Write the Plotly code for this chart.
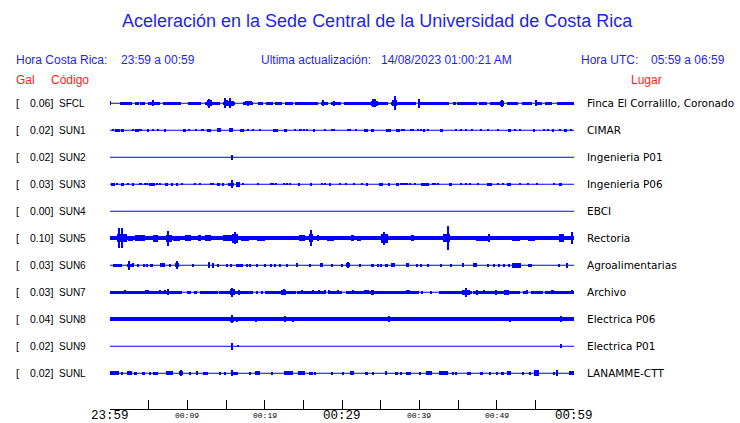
import plotly.graph_objects as go

# ---------------- data ----------------
codes = ["SFCL", "SUN1", "SUN2", "SUN3", "SUN4", "SUN5", "SUN6", "SUN7", "SUN8", "SUN9", "SUNL"]
gal = ["0.06", "0.02", "0.02", "0.03", "0.00", "0.10", "0.03", "0.03", "0.04", "0.02", "0.02"]
places = ["Finca El Corralillo, Coronado", "CIMAR", "Ingenieria P01", "Ingenieria P06", "EBCI",
          "Rectoria", "Agroalimentarias", "Archivo", "Electrica P06", "Electrica P01", "LANAMME-CTT"]

tick_minutes = list(range(0, 61, 5))
tick_labels = ["23:59", "", "00:09", "", "00:19", "", "00:29", "", "00:39", "", "00:49", "", "00:59"]
big_labels = {"23:59", "00:29", "00:59"}

# events per station: (start minute, end minute, half-amplitude)
ev_SFCL = [(0.0, 0.1, 2), (1.3, 2.8, 1.5), (3.2, 3.7, 1.5), (3.9, 4.5, 1.5), (4.9, 6.5, 1.5), (6.9, 9.2, 1.5),
           (10.1, 11.8, 1.5), (12.3, 14.2, 1.5), (14.6, 16.1, 1.5), (17.2, 18.5, 1.5), (19.1, 19.8, 1.5),
           (20.2, 21.1, 1.5), (21.3, 22.2, 1.5), (22.6, 23.7, 1.5), (23.9, 26.9, 1.5), (27.3, 28.2, 1.5),
           (28.6, 29.9, 1.5), (30.3, 35.9, 1.5), (36.3, 39.6, 1.5), (40.0, 43.9, 1.5), (44.3, 44.7, 1.5),
           (44.9, 47.5, 1.5), (47.7, 48.8, 1.5), (49.2, 51.0, 1.5), (51.4, 52.7, 1.5), (53.3, 54.6, 1.5),
           (55.1, 55.9, 1.5), (56.3, 57.2, 1.5), (57.8, 60.0, 1.5),
           (5.5, 5.7, 3), (12.6, 13.2, 3), (12.8, 12.95, 4.5), (14.85, 15.0, 5), (14.7, 15.2, 3),
           (15.5, 15.65, 5), (15.3, 16.0, 2.5), (17.8, 17.95, 2.5), (17.5, 18.3, 2), (27.5, 27.7, 3),
           (28.9, 29.1, 2.5), (33.7, 34.6, 2.5), (33.95, 34.1, 4), (34.25, 34.4, 4), (36.5, 37.1, 3),
           (36.75, 36.9, 7), (39.95, 40.1, 4.5), (50.4, 51.0, 2.5), (50.6, 50.75, 3.5), (55.0, 55.15, 3)]
ev_SUN1 = [(0.2, 0.5, 1), (0.7, 1.3, 1.5), (1.4, 1.8, 1.5), (2.9, 3.1, 1), (3.2, 3.7, 1.5), (3.8, 4.1, 1),
           (4.9, 5.05, 1.5), (5.5, 5.65, 1), (6.1, 6.25, 1), (7.1, 7.25, 1.5), (9.4, 9.8, 1.5), (10.1, 10.25, 1),
           (11.0, 11.15, 1), (11.8, 12.2, 1), (12.5, 13.1, 1.5), (13.9, 14.3, 2), (15.4, 15.9, 2),
           (16.8, 17.3, 1.5), (17.8, 17.95, 1), (18.4, 18.55, 1), (19.3, 19.45, 1), (21.1, 21.7, 1.5),
           (22.5, 22.9, 1.5), (23.8, 23.95, 1), (24.4, 24.8, 1), (25.0, 25.15, 1), (25.4, 25.55, 1),
           (26.2, 26.5, 1.5), (27.8, 27.95, 1), (28.6, 28.75, 1), (28.9, 29.05, 1), (30.7, 30.85, 1),
           (31.0, 31.15, 1), (31.7, 31.85, 1), (32.9, 33.4, 1.5), (33.8, 34.1, 1.5), (35.7, 36.3, 1.5),
           (37.0, 37.5, 1.5), (37.7, 37.85, 1), (37.9, 38.05, 1), (38.8, 38.95, 1), (39.1, 39.25, 1),
           (39.8, 39.95, 1), (40.1, 40.25, 1), (40.6, 40.75, 1.5), (41.0, 41.15, 1), (42.8, 43.0, 1.5),
           (44.7, 44.85, 1), (45.3, 45.45, 1), (46.0, 46.15, 1), (46.7, 46.85, 1), (47.9, 48.05, 1),
           (48.8, 48.95, 1), (50.1, 50.25, 1), (51.5, 51.8, 1.5), (52.3, 52.45, 1), (52.9, 53.05, 1),
           (54.8, 55.0, 1.5), (56.1, 56.25, 1), (56.6, 56.75, 1), (57.2, 57.4, 1.5), (58.1, 58.25, 1),
           (58.7, 59.1, 1.5), (59.6, 59.75, 1)]
ev_SUN2 = [(15.65, 15.8, 2.5)]
ev_SUN3 = [(0.1, 0.6, 1.5), (0.9, 1.05, 1), (1.4, 1.8, 1.5), (2.3, 2.45, 1), (2.8, 3.1, 1.5), (3.7, 4.2, 1),
           (4.4, 4.9, 1), (5.1, 5.8, 1.5), (6.0, 6.15, 1), (6.4, 6.55, 1), (7.1, 7.5, 1.5), (7.95, 8.1, 1.5),
           (8.6, 8.75, 1.5), (9.2, 9.35, 1), (10.9, 11.05, 1), (11.6, 11.75, 1), (13.0, 13.15, 1),
           (13.3, 13.45, 1), (13.9, 14.2, 1.5), (14.6, 14.8, 1.5), (15.3, 16.0, 1.5), (15.65, 15.8, 4),
           (16.3, 16.8, 2.5), (17.1, 17.25, 1), (19.1, 19.25, 1), (20.7, 20.85, 1), (21.0, 21.15, 1),
           (21.4, 21.55, 1), (22.4, 22.55, 1), (22.8, 22.95, 1), (23.2, 23.35, 1), (24.3, 24.6, 1.5),
           (25.8, 26.1, 1.5), (27.3, 27.45, 1), (27.7, 27.95, 1), (28.3, 28.6, 1.5), (29.7, 29.85, 1),
           (30.4, 30.7, 1), (31.5, 31.65, 1), (32.5, 32.65, 1), (33.2, 33.35, 1.5), (34.8, 35.3, 1.5),
           (36.0, 36.2, 1.5), (37.0, 37.4, 1.5), (37.6, 37.75, 1), (37.85, 38.0, 1), (38.05, 38.2, 1),
           (38.4, 38.55, 1), (38.7, 38.85, 1), (39.4, 39.6, 1), (40.2, 41.3, 1.5), (41.7, 41.85, 1),
           (42.0, 42.15, 1), (42.4, 42.55, 1), (43.9, 44.2, 1.5), (45.3, 45.45, 1), (46.0, 46.15, 1),
           (46.5, 46.65, 1), (47.5, 47.75, 1), (48.8, 49.4, 1.5), (50.1, 50.3, 1), (50.7, 50.9, 1),
           (51.4, 51.9, 1.5), (53.0, 53.15, 1), (54.0, 54.15, 1), (55.1, 55.25, 1), (57.4, 57.55, 1),
           (58.1, 58.5, 1.5)]
ev_SUN4 = []
ev_SUN5 = [(0.0, 60.0, 2), (0.9, 2.2, 4), (1.15, 1.3, 10), (1.45, 1.6, 10), (2.3, 3.0, 2.5), (3.2, 4.5, 3),
           (5.5, 6.2, 3.5), (7.2, 8.0, 3.5), (7.45, 7.6, 7.5), (8.2, 9.0, 2.5), (9.7, 10.5, 3), (11.4, 11.8, 3),
           (12.3, 13.1, 3), (14.6, 16.6, 3), (15.8, 16.5, 4.5), (16.15, 16.3, 6), (17.0, 18.0, 2.5),
           (19.0, 20.0, 2.5), (24.5, 25.2, 3), (25.7, 26.3, 4), (25.95, 26.1, 8), (26.8, 27.0, 3),
           (28.0, 29.0, 2.5), (31.2, 31.6, 3), (32.0, 32.5, 2.5), (35.0, 35.9, 4.5), (35.35, 35.5, 6.5),
           (38.9, 39.3, 3), (43.0, 44.0, 4), (43.65, 43.8, 12), (47.3, 49.2, 2.5), (48.9, 49.1, 4),
           (52.0, 53.0, 2.5), (54.0, 55.0, 2.5), (58.1, 58.7, 4), (59.7, 59.9, 6)]
ev_SUN6 = [(0.4, 1.5, 1.7), (2.2, 2.8, 1.5), (2.45, 2.6, 4.5), (2.95, 3.1, 2), (3.6, 3.75, 1.5),
           (4.3, 4.45, 1.5), (4.7, 4.85, 1.5), (5.2, 5.5, 1.5), (6.5, 7.1, 2), (7.7, 7.85, 1.5), (8.4, 8.9, 2),
           (8.65, 8.8, 4), (10.7, 10.85, 1.5), (12.8, 12.95, 3), (13.2, 13.35, 2.5), (13.9, 14.05, 1.5),
           (15.0, 15.15, 1.5), (15.6, 15.75, 1.5), (16.3, 17.2, 1.5), (17.6, 17.75, 1.5), (18.1, 18.25, 1.5),
           (18.9, 19.05, 1.5), (20.0, 20.2, 1.5), (20.7, 20.85, 1.5), (21.3, 21.45, 1.5), (21.9, 22.05, 1.5),
           (22.8, 23.0, 1.5), (24.1, 24.3, 2), (25.8, 25.95, 1.5), (27.1, 27.5, 2), (28.7, 28.85, 1.5),
           (29.9, 30.05, 1.5), (30.5, 31.0, 2), (30.7, 30.85, 3), (32.3, 32.45, 1.5), (33.8, 34.2, 1.5),
           (34.6, 34.75, 1.5), (34.95, 35.1, 1.5), (35.5, 35.9, 1.5), (36.4, 36.8, 2), (38.3, 38.7, 2),
           (39.6, 39.8, 1.5), (40.1, 40.3, 1.5), (41.0, 41.15, 1.5), (42.7, 42.85, 1.5), (44.0, 44.15, 1.5),
           (45.6, 45.8, 2), (46.9, 47.5, 2), (48.8, 48.95, 1.5), (49.6, 49.75, 1.5), (50.2, 50.35, 1.5),
           (50.9, 51.05, 1.5), (51.5, 51.65, 1.5), (52.0, 53.1, 2.5), (54.0, 54.6, 1.5), (58.0, 58.15, 1.5),
           (59.0, 59.15, 2.5)]
ev_SUN7 = [(0.0, 9.3, 1.3), (10.0, 10.5, 1.3), (10.8, 11.3, 1.3), (11.7, 14.0, 1.3), (14.1, 18.5, 1.3),
           (19.0, 19.2, 1.3), (19.6, 19.8, 1.3), (20.0, 24.0, 1.3), (24.2, 27.9, 1.3), (28.3, 30.0, 1.3),
           (30.5, 40.0, 1.3), (40.3, 40.5, 1.3), (41.4, 41.6, 1.3), (42.5, 46.8, 1.3), (47.0, 53.0, 1.3),
           (53.4, 53.9, 1.3), (54.4, 56.0, 1.3), (56.3, 60.0, 1.3),
           (1.9, 2.1, 2), (4.5, 5.0, 2), (6.4, 6.55, 2), (7.1, 7.25, 2), (7.4, 7.55, 3), (15.5, 16.1, 3),
           (15.65, 15.8, 4.5), (16.5, 16.8, 2.5), (22.1, 22.8, 2.5), (22.4, 22.55, 3), (24.7, 24.85, 2),
           (26.2, 26.35, 2), (26.9, 27.05, 2), (27.7, 27.85, 2), (28.2, 28.35, 2), (29.4, 29.55, 2),
           (31.3, 31.45, 2), (32.8, 33.5, 2), (33.7, 34.2, 2.5), (38.3, 38.8, 2), (45.5, 46.5, 2.5),
           (45.95, 46.1, 4.5), (47.4, 47.55, 2.5), (48.3, 48.45, 2), (49.8, 49.95, 2.5), (51.0, 51.6, 2.5),
           (53.9, 54.05, 2), (57.0, 57.4, 2), (59.7, 59.85, 2)]
ev_SUN8 = [(0.0, 60.0, 2), (15.65, 15.8, 4), (15.5, 16.0, 2.5), (16.3, 16.6, 2.5), (18.8, 18.95, 2.5),
           (22.55, 22.7, 3), (23.6, 23.75, 2.5), (36.0, 36.15, 3), (51.7, 51.85, 2.5), (58.2, 58.35, 3)]
ev_SUN9 = [(15.6, 15.9, 1.5), (15.65, 15.8, 3.3), (16.45, 16.6, 1), (58.25, 58.4, 2)]
ev_SUNL = [(0.0, 1.2, 2), (1.5, 1.65, 1.5), (2.2, 2.8, 2), (3.1, 3.5, 1.5), (4.2, 4.5, 1.5), (5.1, 5.25, 1.5),
           (5.6, 6.2, 1.5), (7.3, 8.2, 2), (8.9, 9.5, 2), (9.1, 9.25, 3), (10.3, 10.5, 1.5), (11.1, 11.4, 2),
           (12.0, 12.7, 1.5), (14.2, 14.35, 1.5), (14.7, 15.0, 1.5), (15.65, 15.8, 3), (15.9, 16.5, 1.5),
           (18.0, 18.15, 1.5), (18.7, 19.4, 2), (20.9, 21.1, 1.5), (22.5, 23.7, 2), (24.3, 25.2, 2),
           (25.7, 26.2, 1.5), (26.5, 26.7, 1.5), (28.7, 28.85, 1.5), (30.0, 30.15, 1.5), (31.0, 31.6, 2),
           (33.0, 33.3, 1.5), (34.0, 34.15, 1.5), (35.5, 35.8, 2), (36.8, 37.2, 1.5), (37.5, 37.65, 1.5),
           (38.3, 38.9, 1.5), (40.0, 40.15, 1.5), (40.9, 41.7, 2), (42.6, 43.7, 2), (44.3, 44.45, 1.5),
           (44.7, 44.85, 1.5), (46.2, 46.7, 1.5), (47.9, 48.2, 1.5), (49.0, 49.3, 1.5), (50.0, 50.2, 1.5),
           (50.5, 51.0, 1.5), (51.4, 51.9, 2), (53.4, 53.55, 1.5), (54.3, 54.45, 1.5), (54.8, 55.5, 3),
           (57.3, 57.45, 1.5), (57.8, 57.95, 3), (59.3, 60.0, 2)]

events = [ev_SFCL, ev_SUN1, ev_SUN2, ev_SUN3, ev_SUN4, ev_SUN5, ev_SUN6, ev_SUN7, ev_SUN8, ev_SUN9, ev_SUNL]

# ---------------- styling ----------------
W, H = 740, 423
ROW_PX = 27.0          # pixel distance between traces
ROW0_PX = 103.3        # pixel of first trace
AXIS_PX = 409.0        # pixel of time axis line
BLUE = "#0000ff"
TXT_BLUE = "#1f1ff0"
RED = "#ff1a1a"

fig = go.Figure()

# baselines
bx, by = [], []
for i in range(len(codes)):
    bx += [0, 60, None]
    by += [i, i, None]
fig.add_trace(go.Scatter(x=bx, y=by, mode="lines", line=dict(color=BLUE, width=1.1),
                         showlegend=False, hoverinfo="skip"))

# bursts
xs, ws, bases, hs = [], [], [], []
for i, evs in enumerate(events):
    for s, e, a in evs:
        xs.append((s + e) / 2)
        ws.append(max(e - s, 0.13))
        amp = a / ROW_PX
        bases.append(i - amp)
        hs.append(2 * amp)
fig.add_trace(go.Bar(x=xs, y=hs, base=bases, width=ws, marker=dict(color=BLUE, line=dict(width=0)),
                     showlegend=False, hoverinfo="skip"))

plot_h = AXIS_PX
y_top = (0 - ROW0_PX) / ROW_PX
y_bot = (AXIS_PX - ROW0_PX) / ROW_PX

fig.update_layout(
    template="none",
    width=W, height=H,
    margin=dict(l=0, r=0, t=0, b=H - AXIS_PX, pad=0, autoexpand=False),
    paper_bgcolor="white", plot_bgcolor="white",
    bargap=0,
    xaxis=dict(domain=[110 / W, 574 / W], range=[0, 60], showgrid=False, zeroline=False,
               automargin=False,
               showline=True, linecolor="black", linewidth=1, ticks="inside", ticklen=9,
               tickwidth=1, tickcolor="black", tickmode="array", tickvals=tick_minutes,
               showticklabels=False, fixedrange=True),
    yaxis=dict(domain=[0, 1], range=[y_bot, y_top], visible=False, fixedrange=True, automargin=False),
)

def px_y(p):
    return 1 - p / plot_h

def ann(text, x, y, color, size, family="Liberation Sans", xanchor="left", yref="paper"):
    fig.add_annotation(text=text, x=x / W, y=y, xref="paper", yref=yref, showarrow=False,
                       xanchor=xanchor, yanchor="middle", borderpad=0,
                       font=dict(color=color, size=size, family=family))

# time-axis labels, placed at the axis tick values
for t, lab in zip(tick_minutes, tick_labels):
    if not lab:
        continue
    big = lab in big_labels
    fig.add_annotation(text=lab, x=t, xref="x", y=px_y(415.5), yref="paper", showarrow=False,
                       xanchor="center", yanchor="middle", borderpad=0,
                       font=dict(family="Liberation Mono", size=12.5 if big else 8, color="black"))

ann("Aceleración en la Sede Central de la Universidad de Costa Rica", 377, px_y(21), TXT_BLUE, 18,
    xanchor="center")
ann("Hora Costa Rica:", 15, px_y(60.5), TXT_BLUE, 12)
ann("23:59 a 00:59", 120, px_y(60.5), TXT_BLUE, 12)
ann("Ultima actualización:", 260, px_y(60.5), TXT_BLUE, 12)
ann("14/08/2023 01:00:21 AM", 380, px_y(60.5), TXT_BLUE, 12)
ann("Hora UTC:", 580, px_y(60.5), TXT_BLUE, 12)
ann("05:59 a 06:59", 650, px_y(60.5), TXT_BLUE, 12)
ann("Gal", 15, px_y(80.5), RED, 12)
ann("Código", 50, px_y(80.5), RED, 12)
ann("Lugar", 630, px_y(80.5), RED, 12)

for i in range(len(codes)):
    ann("[", 15, i, "black", 10.5, yref="y")
    ann(gal[i] + "]", 54, i, "black", 10.5, xanchor="right", yref="y")
    ann(codes[i], 58, i, "black", 10, yref="y")
    ann(places[i], 586, i, "black", 10.5, family="DejaVu Sans", yref="y")

fig.write_html("out.html", config={"displayModeBar": False},
               post_script="document.body.style.margin='0px';")
